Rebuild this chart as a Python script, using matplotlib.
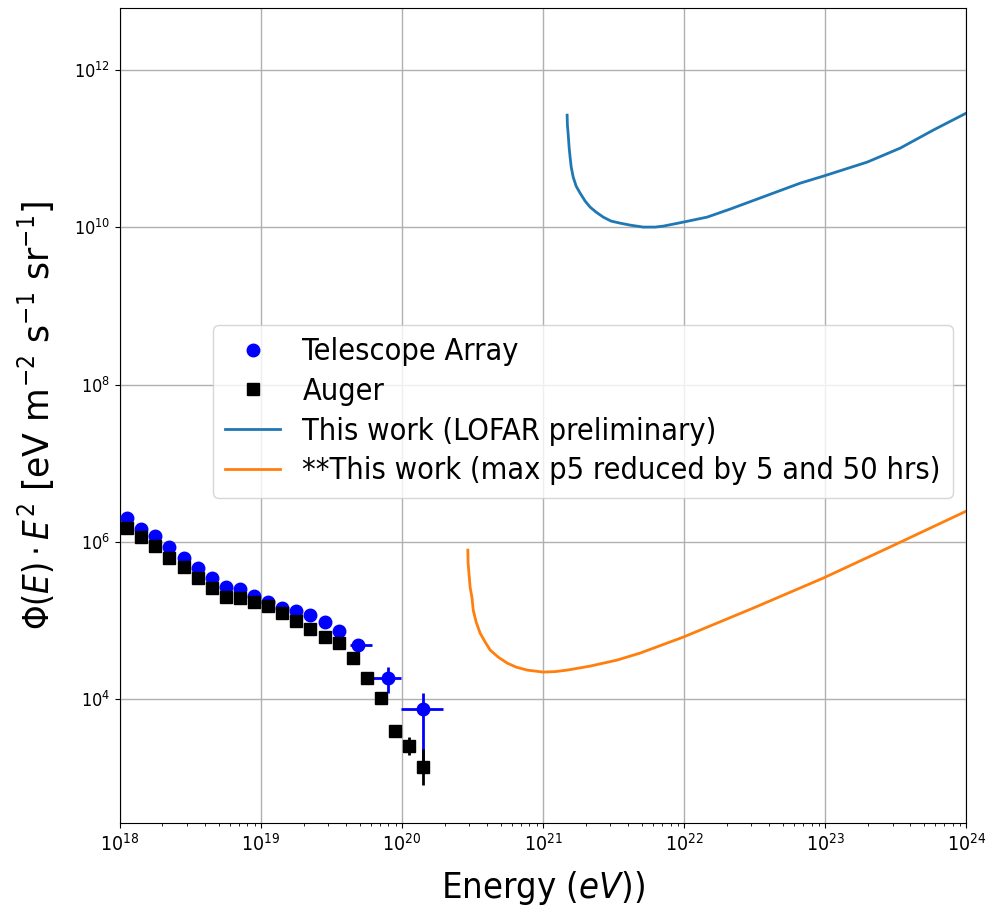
import numpy as np
import matplotlib.pyplot as plt
from matplotlib.ticker import NullLocator

plt.rcParams["font.stretch"] = "condensed"

# ---------- Data (log10 values) ----------
ta_logE = [18.05, 18.15, 18.25, 18.35, 18.45, 18.55, 18.65, 18.75, 18.85, 18.95,
           19.05, 19.15, 19.25, 19.35, 19.45, 19.55, 19.69, 19.90, 20.15]
ta_logF = [6.305, 6.165, 6.076, 5.936, 5.796, 5.669, 5.542, 5.427, 5.402, 5.313,
           5.237, 5.160, 5.122, 5.071, 4.982, 4.868, 4.690, 4.270, 3.875]
# error ranges (log10) for the last three TA points
ta_err_idx = [16, 17, 18]
ta_xlo = [19.63, 19.79, 19.99]
ta_xhi = [19.79, 19.99, 20.29]
ta_ylo = [4.66, 4.08, 3.20]
ta_yhi = [4.72, 4.41, 4.08]

auger_logE = [18.05 + 0.1 * i for i in range(22)]
auger_logF = [6.178, 6.064, 5.949, 5.796, 5.682, 5.542, 5.415, 5.300, 5.288, 5.237,
              5.186, 5.097, 4.995, 4.893, 4.791, 4.715, 4.524, 4.270, 4.015, 3.595,
              3.405, 3.137]
auger_err_idx = [19, 20, 21]
auger_ylo = [3.55, 3.28, 2.90]
auger_yhi = [3.65, 3.52, 3.36]

lofar_logE = [21.170, 21.172, 21.177, 21.184, 21.191, 21.199, 21.213, 21.234, 21.262,
              21.298, 21.333, 21.376, 21.426, 21.482, 21.546, 21.617, 21.709, 21.794,
              21.851, 21.993, 22.163, 22.326, 22.823, 22.986, 23.298, 23.532, 23.766,
              24.0]
lofar_logF = [11.427, 11.300, 11.198, 11.020, 10.893, 10.766, 10.639, 10.524, 10.435,
              10.333, 10.257, 10.193, 10.130, 10.079, 10.053, 10.028, 10.003, 10.003,
              10.015, 10.066, 10.130, 10.232, 10.562, 10.651, 10.830, 11.008, 11.237,
              11.453]

red_logE = [20.466, 20.467, 20.468, 20.475, 20.482, 20.496, 20.504, 20.525, 20.553,
            20.589, 20.624, 20.681, 20.745, 20.809, 20.887, 20.943, 21.000, 21.085,
            21.170, 21.333, 21.525, 21.688, 21.993, 22.489, 22.986, 23.489, 24.0]
red_logF = [5.893, 5.804, 5.728, 5.575, 5.422, 5.282, 5.130, 4.977, 4.837,
            4.723, 4.621, 4.532, 4.455, 4.404, 4.366, 4.354, 4.341, 4.347,
            4.366, 4.417, 4.494, 4.583, 4.786, 5.155, 5.537, 5.957, 6.389]


def _asym(center, lo, hi):
    c = 10.0 ** np.asarray(center)
    return np.vstack([c - 10.0 ** np.asarray(lo), 10.0 ** np.asarray(hi) - c])


# ---------- Plot ----------
fig = plt.figure(figsize=(9.88, 9.14), dpi=100)
ax = fig.add_axes([0.1215, 0.0995, 0.8565, 0.8917])

ta_E = 10.0 ** np.array(ta_logE)
ta_F = 10.0 ** np.array(ta_logF)
au_E = 10.0 ** np.array(auger_logE)
au_F = 10.0 ** np.array(auger_logF)

ax.plot(ta_E, ta_F, "o", color="blue", ms=9, label="Telescope Array", zorder=3)
ax.errorbar(ta_E[ta_err_idx], ta_F[ta_err_idx],
            xerr=_asym(np.array(ta_logE)[ta_err_idx], ta_xlo, ta_xhi),
            yerr=_asym(np.array(ta_logF)[ta_err_idx], ta_ylo, ta_yhi),
            fmt="none", ecolor="blue", elinewidth=2, zorder=3)

ax.plot(au_E, au_F, "s", color="black", ms=8.5, label="Auger", zorder=4)
ax.errorbar(au_E[auger_err_idx], au_F[auger_err_idx],
            yerr=_asym(np.array(auger_logF)[auger_err_idx], auger_ylo, auger_yhi),
            fmt="none", ecolor="black", elinewidth=2, zorder=4)

ax.plot(10.0 ** np.array(lofar_logE), 10.0 ** np.array(lofar_logF), color="C0", lw=2,
        label="This work (LOFAR preliminary)")
ax.plot(10.0 ** np.array(red_logE), 10.0 ** np.array(red_logF), color="C1", lw=2,
        label="**This work (max p5 reduced by 5 and 50 hrs)")

ax.set_xscale("log")
ax.set_yscale("log")
ax.set_xlim(1e18, 1e24)
ax.set_ylim(10 ** 2.42, 10 ** 12.79)
ax.set_yticks([1e4, 1e6, 1e8, 1e10, 1e12])
ax.yaxis.set_minor_locator(NullLocator())
ax.tick_params(axis="x", labelsize=14)
ax.tick_params(axis="y", labelsize=13)

ax.grid(True, which="major", color="#b0b0b0", lw=1)
ax.set_xlabel("Energy ($eV$))", fontsize=26, labelpad=10)
ax.set_ylabel(r"$\Phi(E) \cdot E^2$ [eV m$^{-2}$ s$^{-1}$ sr$^{-1}$]", fontsize=25,
              fontstretch="normal")
ax.yaxis.set_label_coords(-0.075, 0.5)

ax.legend(loc="upper left", bbox_to_anchor=(0.110, 0.611), borderaxespad=0,
          fontsize=22, labelspacing=0.35, handlelength=1.8, handletextpad=0.72)

plt.savefig("out.png", dpi=100)
